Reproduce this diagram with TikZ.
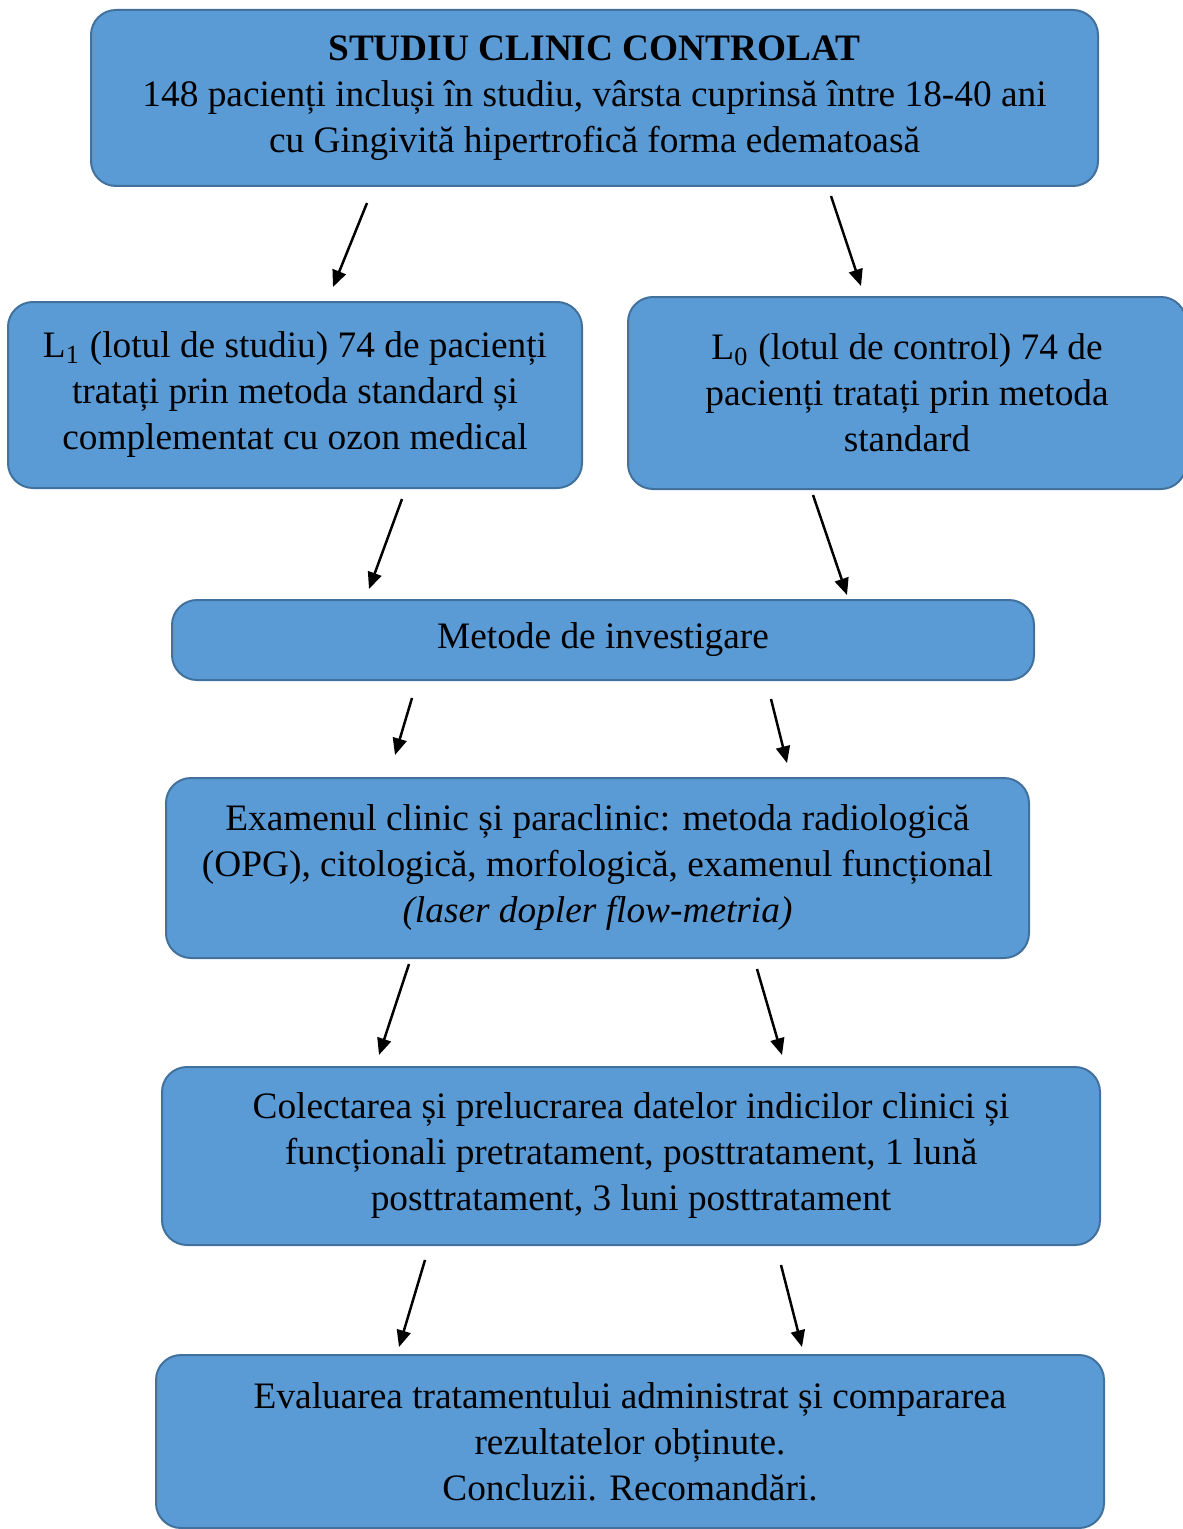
\documentclass[tikz,border=0pt]{standalone}
\usepackage{fontspec}
\setmainfont{Liberation Serif}
\usetikzlibrary{arrows.meta}
\definecolor{boxblue}{HTML}{5B9BD5}
\definecolor{boxline}{HTML}{41719C}
\tikzset{
  stage/.style 2 args={draw=boxline, line width=0.6pt, fill=boxblue, rounded corners=7.5pt,
    minimum width=#1*0.3pt, minimum height=#2*0.3pt, inner sep=0pt, align=center,
    font=\fontsize{11.2}{13.8}\selectfont},
  flow/.style={line width=0.75pt, -{Triangle[length=5pt,width=4.2pt]}}
}
\begin{document}
\begin{tikzpicture}[x=0.3pt, y=-0.3pt]
    \useasboundingbox (0,0) rectangle (1182,1529);

    \node[stage={1007}{176}] (study) at (594.5,98)
        {\textbf{STUDIU CLINIC CONTROLAT}\\148 pacienți incluși în studiu, vârsta cuprinsă între 18-40 ani\\cu Gingivită hipertrofică forma edematoasă};

    \node[stage={574}{186}] (lotone) at (295,395)
        {L\textsubscript{1} (lotul de studiu) 74 de pacienți\\tratați prin metoda standard și\\complementat cu ozon medical};
    \node[stage={558}{192}] (lotzero) at (907,393)
        {L\textsubscript{0} (lotul de control) 74 de\\pacienți tratați prin metoda\\standard};

    \node[stage={862}{80}] (metode) at (603,640) {Metode de investigare};

    \node[stage={863}{180}] (examen) at (597.5,868)
        {Examenul clinic și paraclinic: metoda radiologică\\(OPG), citologică, morfologică, examenul funcțional\\\textit{(laser dopler flow-metria)}};

    \node[stage={938}{178}] (colect) at (631,1156)
        {Colectarea și prelucrarea datelor indicilor clinici și\\funcționali pretratament, posttratament, 1 lună\\posttratament, 3 luni posttratament};

    \node[stage={948}{173}] (evaluare) at (630,1441.5)
        {Evaluarea tratamentului administrat și compararea\\rezultatelor obținute.\\Concluzii. Recomandări.};

    % arrow ends between the boxes
    \coordinate (s1l) at (367,203);  \coordinate (e1l) at (333,287);
    \coordinate (s1r) at (831,196);  \coordinate (e1r) at (861,286);
    \coordinate (s2l) at (402,499);  \coordinate (e2l) at (369,589);
    \coordinate (s2r) at (813,495);  \coordinate (e2r) at (847,595);
    \coordinate (s3l) at (412,698);  \coordinate (e3l) at (395,755);
    \coordinate (s3r) at (771,699);  \coordinate (e3r) at (787,763);
    \coordinate (s4l) at (409,964);  \coordinate (e4l) at (379,1055);
    \coordinate (s4r) at (757,969);  \coordinate (e4r) at (782,1055);
    \coordinate (s5l) at (425,1260); \coordinate (e5l) at (399,1347);
    \coordinate (s5r) at (781,1265); \coordinate (e5r) at (802,1347);

    \foreach \i in {1,...,5}{
        \draw[flow] (s\i l) -- (e\i l);
        \draw[flow] (s\i r) -- (e\i r);
    }
\end{tikzpicture}
\end{document}
